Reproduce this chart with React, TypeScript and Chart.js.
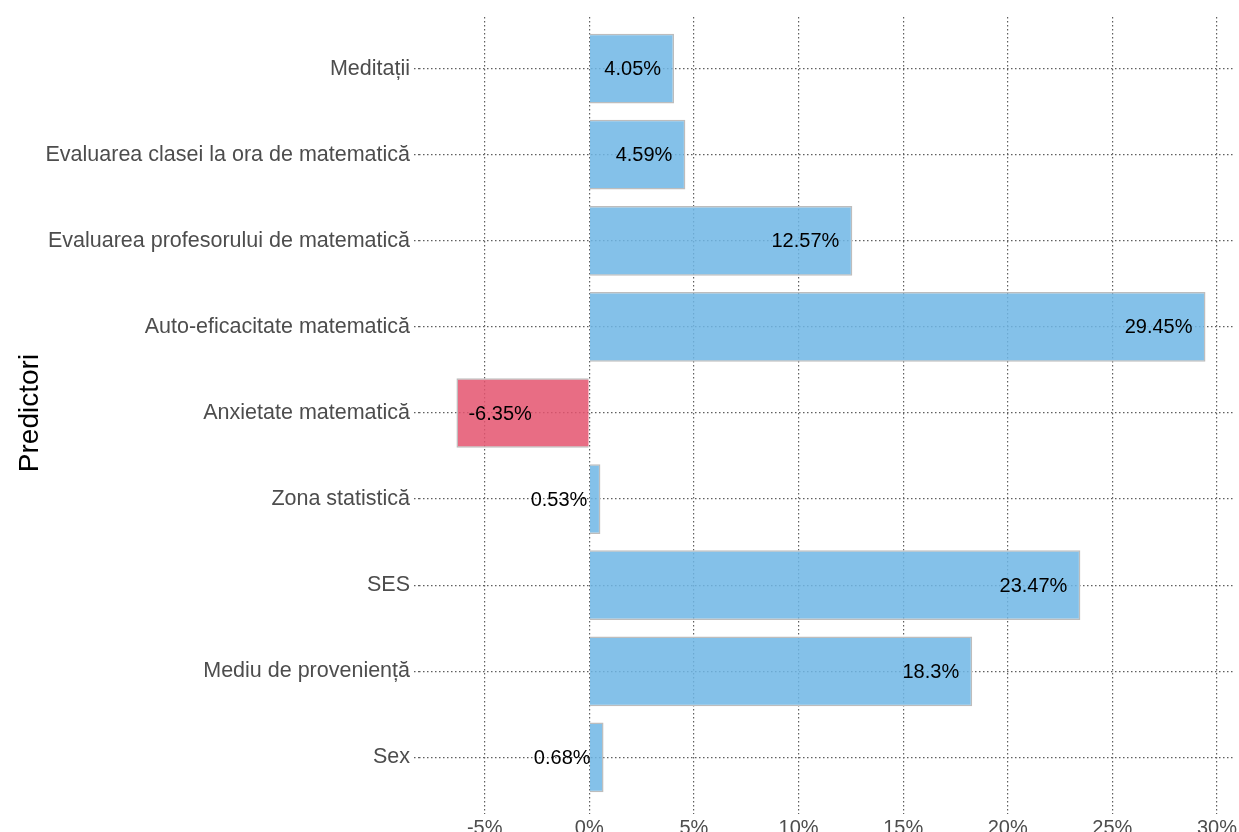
import React, { useEffect, useRef } from "react";
import { Chart, registerables } from "chart.js";

Chart.register(...registerables);

const categories: string[] = [
  "Meditații",
  "Evaluarea clasei la ora de matematică",
  "Evaluarea profesorului de matematică",
  "Auto-eficacitate matematică",
  "Anxietate matematică",
  "Zona statistică",
  "SES",
  "Mediu de proveniență",
  "Sex",
];
const values: number[] = [4.05, 4.59, 12.57, 29.45, -6.35, 0.53, 23.47, 18.3, 0.68];
const valueLabels: string[] = ["4.05%", "4.59%", "12.57%", "29.45%", "-6.35%", "0.53%", "23.47%", "18.3%", "0.68%"];
const xTicks: number[] = [-5, 0, 5, 10, 15, 20, 25, 30];
const yTitle = "Predictori";

const FONT = "'Liberation Sans', Arial, Helvetica, sans-serif";
const GRID = "#5f5f5f";

const labelPlugin = {
  id: "barLabels",
  afterDatasetsDraw(chart: any) {
    const ctx = chart.ctx;
    const meta = chart.getDatasetMeta(0);
    ctx.save();
    ctx.font = `20px ${FONT}`;
    ctx.fillStyle = "#000000";
    ctx.textBaseline = "middle";
    meta.data.forEach((el: any, i: number) => {
      const v = values[i];
      if (v >= 0) {
        ctx.textAlign = "right";
        ctx.fillText(valueLabels[i], el.x - 13, el.y + 1);
      } else {
        ctx.textAlign = "left";
        ctx.fillText(valueLabels[i], el.x + 12, el.y + 1);
      }
    });
    ctx.restore();
  },
};

export default function App() {
  const ref = useRef<HTMLCanvasElement | null>(null);
  useEffect(() => {
    if (!ref.current) return;
    const chart = new Chart(ref.current, {
      type: "bar",
      data: {
        datasets: [
          {
            data: values.map((v, i) => ({ x: v, y: i })) as any,
            backgroundColor: values.map((v) => (v >= 0 ? "rgba(111,182,229,0.85)" : "rgba(228,84,111,0.85)")),
            borderColor: "#bdbdbd",
            borderWidth: 1.5,
            barPercentage: 0.81,
            categoryPercentage: 1,
          },
        ],
      },
      options: {
        indexAxis: "y",
        responsive: false,
        animation: false,
        layout: { padding: { left: 0, top: 17, right: 0, bottom: 0 } },
        plugins: {
          legend: { display: false },
          tooltip: { enabled: false },
        },
        scales: {
          x: {
            type: "linear",
            min: -8.14,
            max: 30.8,
            afterBuildTicks: (scale: any) => {
              scale.ticks = xTicks.map((v) => ({ value: v }));
            },
            afterFit: (scale: any) => {
              scale.height = 23;
            },
            ticks: {
              callback: (v: any) => `${v}%`,
              color: "#4d4d4d",
              font: { size: 20, family: FONT },
              padding: 2,
              maxRotation: 0,
              autoSkip: false,
            },
            grid: {
              color: GRID,
              lineWidth: 1.2,
              drawTicks: true,
              tickLength: 5,
              tickColor: GRID,
              tickBorderDash: [1.5, 2.5],
            },
            border: { display: false, dash: [1.5, 2.5] },
          },
          y: {
            type: "linear",
            reverse: true,
            offset: false,
            min: -0.6,
            max: 8.6,
            afterBuildTicks: (scale: any) => {
              scale.ticks = categories.map((_, i) => ({ value: i }));
            },
            afterFit: (scale: any) => {
              scale.width = 419;
            },
            ticks: {
              callback: (v: any) => categories[v] ?? "",
              color: "#4d4d4d",
              font: { size: 21.5, family: FONT },
              padding: 4,
              autoSkip: false,
            },
            grid: {
              offset: false,
              color: GRID,
              lineWidth: 1.2,
              drawTicks: true,
              tickLength: 5,
              tickColor: GRID,
              tickBorderDash: [1.5, 2.5],
            },
            border: { display: false, dash: [1.5, 2.5] },
            title: {
              display: true,
              text: yTitle,
              color: "#000000",
              font: { size: 28, family: FONT },
              padding: { top: 13, bottom: 0 },
            },
          },
        },
      },
      plugins: [labelPlugin],
    } as any);
    return () => chart.destroy();
  }, []);
  return (
    <div style={{ position: "fixed", left: 0, top: 0, width: 1239, height: 832, background: "#fff" }}>
      <canvas ref={ref} width={1239} height={832} style={{ display: "block" }} />
    </div>
  );
}
